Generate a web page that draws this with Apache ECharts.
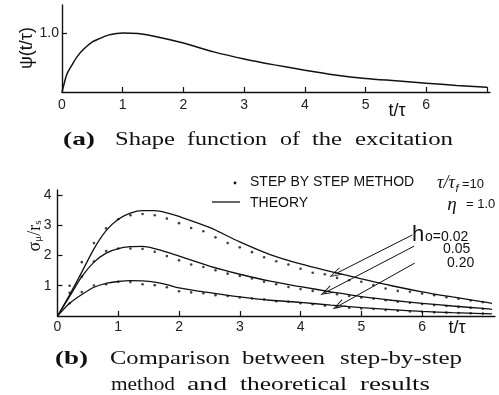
<!DOCTYPE html>
<html>
<head>
<meta charset="utf-8">
<script src="https://cdn.jsdelivr.net/npm/echarts@6/dist/echarts.min.js"></script>
<style>
html,body{margin:0;padding:0;background:#fff;}
#main{width:499px;height:395px;}
</style>
</head>
<body>
<div id="main"></div>
<script>
// (a) shape function psi(t/tau)
var psiT=[0,0.04,0.08,0.16,0.25,0.35,0.5,0.63,0.75,0.9,1,1.25,1.5,2,2.5,3,3.5,4,4.5,5,5.5,6,6.5,7];
var psiV=[0,0.16,0.3,0.45,0.6,0.72,0.85,0.91,0.96,0.99,1.0,0.99,0.95,0.83,0.68,0.56,0.46,0.37,0.29,0.23,0.19,0.15,0.11,0.08];

// (b) theory curves for h0 = 0.02 / 0.05 / 0.20
var theoryT=[0,0.2,0.4,0.6,0.8,1.0,1.2,1.4,1.6,1.8,2.0,2.5,3.0,3.5,4.0,4.5,5.0,5.5,6.0,6.5,7.0,7.15];
var theory002=[0,0.7,1.45,2.22,2.82,3.2,3.4,3.48,3.48,3.41,3.29,2.93,2.45,2.03,1.72,1.47,1.23,1.0,0.8,0.63,0.47,0.42];
var theory005=[0,0.65,1.3,1.78,2.08,2.23,2.29,2.3,2.23,2.11,1.98,1.65,1.38,1.15,0.97,0.8,0.64,0.52,0.42,0.33,0.25,0.22];
var theory020=[0,0.42,0.71,0.95,1.08,1.14,1.17,1.16,1.12,1.04,0.93,0.77,0.63,0.52,0.45,0.36,0.28,0.21,0.15,0.11,0.08,0.07];

// (b) step by step method points
var stepT=[0.2,0.4,0.6,0.8,1.0,1.2,1.4,1.6,1.8,2.0,2.2,2.4,2.6,2.8,3.0,3.2,3.4,3.6,3.8,4.0,4.2,4.4,4.6,4.8,5.0,5.2,5.4,5.6,5.8,6.0,6.2,6.4,6.6,6.8,7.0];
var step002=[1.0,1.78,2.41,2.9,3.2,3.33,3.37,3.33,3.22,3.07,2.91,2.8,2.6,2.41,2.27,2.11,1.94,1.81,1.7,1.56,1.43,1.38,1.26,1.18,1.13,1.02,0.91,0.83,0.8,0.74,0.69,0.62,0.57,0.51,0.46];
var step005=[0.77,1.3,1.8,2.15,2.23,2.23,2.22,2.12,1.98,1.84,1.7,1.62,1.51,1.4,1.32,1.24,1.13,1.05,0.96,0.89,0.83,0.78,0.72,0.66,0.61,0.57,0.52,0.47,0.44,0.4,0.36,0.33,0.3,0.27,0.24];
var step020=[0.42,0.79,1.01,1.05,1.13,1.12,1.05,1.02,0.95,0.82,0.78,0.75,0.69,0.66,0.61,0.58,0.55,0.49,0.47,0.42,0.39,0.34,0.3,0.27,0.25,0.23,0.2,0.17,0.15,0.14,0.12,0.11,0.1,0.09,0.08];

// arrows from the h0 labels to the curves [from, to]
var arrows=[[[5.84,2.68],[4.57,1.39]],[[5.87,2.31],[4.42,0.79]],[[5.88,1.75],[4.62,0.33]]];

var xTicksA=[1,2,3,4,5,6,7];
var xLabelsA=[0,1,2,3,4,5,6];
var xTicksB=[1,2,3,4,5,6];
var xLabelsB=[0,1,2,3,4,5,6];
var yTicksB=[1,2,3,4];

function pairs(xs,ys){
	var out=[];
	for(var i=0;i<xs.length;i++){
		out.push([xs[i],ys[i]]);
	}
	return out;
}

var ink='#111';
var numFont='Liberation Sans';
var serif='Liberation Serif';
var measureCtx=document.createElement('canvas').getContext('2d');

function fontStr(size,opt){
	return (opt.style||'normal')+' '+(opt.weight||'normal')+' '+size+'px "'+(opt.family||serif)+'"';
}

function txt(s,x,y,size,opt){
	opt=opt||{};
	var el={
		type:'text',x:x,y:y,rotation:opt.rot||0,silent:true,
		style:{
			text:s,fill:ink,font:fontStr(size,opt),
			textAlign:opt.align||'center',textVerticalAlign:'middle'
		}
	};
	// stretch a word to the width it takes in the scan (the original is letter-spaced)
	if(opt.width){
		measureCtx.font=fontStr(size,opt);
		var w=measureCtx.measureText(s).width;
		if(w>0){
			el.scaleX=opt.width/w;
		}
	}
	return el;
}

// caption words: [text, left, right, y, bold]
var captionWords=[
	['(a)',63,95,140,true],['Shape',115,175,140],['function',187,267,140],['of',280,300,140],['the',312,342,140],['excitation',355,453,140],
	['(b)',55,88,359,true],['Comparison',110,230,359],['between',242,325,359],['step-by-step',340,462,359],
	['method',111,175,385],['and',187,227,385],['theoretical',240,347,385],['results',360,430,385]
];

var graphics=[];
captionWords.forEach(function(w){
	graphics.push(txt(w[0],(w[1]+w[2])/2,w[3],19,{weight:w[4]?'bold':'normal',width:w[2]-w[1]}));
});

// axis names
graphics.push(txt('ψ(t/τ)',27,48,18,{family:numFont,rot:Math.PI/2}));
graphics.push({
	type:'text',x:35,y:236,rotation:Math.PI/2,silent:true,
	style:{
		text:'{a|σ}{s|μ}{a|/r}{s|s}',fill:ink,textAlign:'center',textVerticalAlign:'middle',
		rich:{
			a:{fontSize:18,fontFamily:serif,fill:ink},
			s:{fontSize:11,fontFamily:serif,fill:ink,verticalAlign:'bottom',padding:[7,0,0,0]}
		}
	}
});
graphics.push(txt('t/τ',397,111,18,{family:numFont}));
graphics.push(txt('t/τ',457,328,18,{family:numFont}));

// legend
graphics.push({type:'circle',silent:true,shape:{cx:235,cy:183,r:1.4},style:{fill:ink}});
graphics.push(txt('STEP BY STEP METHOD',250,182,14,{family:numFont,align:'left'}));
graphics.push({type:'line',silent:true,shape:{x1:212,y1:202,x2:240,y2:202},style:{stroke:ink,lineWidth:1.3}});
graphics.push(txt('THEORY',250,203,14,{family:numFont,align:'left'}));

// parameters
graphics.push(txt('τ/τ',446,183,18,{style:'italic'}));
graphics.push(txt('f',457,189,11,{style:'italic',family:numFont}));
graphics.push(txt('=10',462,184,13,{family:numFont,align:'left'}));
graphics.push(txt('η',452,205,19,{style:'italic'}));
graphics.push(txt('= 1.0',466,204,13,{family:numFont,align:'left'}));

// h0 labels
graphics.push(txt('h',418,235,22,{family:numFont}));
graphics.push(txt('o=0.02',425,237,14,{family:numFont,align:'left'}));
graphics.push(txt('0.05',443,249,14,{family:numFont,align:'left'}));
graphics.push(txt('0.20',447,263,14,{family:numFont,align:'left'}));

var chevron='path://M5,0 L10,14 L8.8,14 L5,3 L1.2,14 L0,14 Z';

var axisLineStyle={lineStyle:{color:ink,width:1.4}};
var tickStyle={show:true,inside:true,length:5,lineStyle:{color:ink,width:1.2}};
var labelBase={color:'#222',fontFamily:numFont,fontSize:14};

var chart=echarts.init(document.getElementById('main'));
var option={
	backgroundColor:'#ffffff',
	animation:false,
	graphic:graphics,
	grid:[
		{left:62,top:5,width:428,height:87},
		{left:57.5,top:190,width:437.5,height:126}
	],
	xAxis:[
		{
			type:'value',gridIndex:0,min:0,max:7.05,
			axisLine:axisLineStyle,splitLine:{show:false},
			axisTick:Object.assign({customValues:xTicksA},tickStyle),
			axisLabel:Object.assign({customValues:xLabelsA,margin:6},labelBase)
		},
		{
			type:'value',gridIndex:1,min:0,max:7.2,
			axisLine:axisLineStyle,splitLine:{show:false},
			axisTick:Object.assign({customValues:xTicksB},tickStyle),
			axisLabel:Object.assign({customValues:xLabelsB,margin:4},labelBase)
		}
	],
	yAxis:[
		{
			type:'value',gridIndex:0,min:0,max:1.475,
			axisLine:axisLineStyle,splitLine:{show:false},
			axisTick:Object.assign({customValues:[1]},tickStyle),
			axisLabel:Object.assign({customValues:[1],margin:3,formatter:function(v){return v.toFixed(1);}},labelBase)
		},
		{
			type:'value',gridIndex:1,min:0,max:4.165,
			axisLine:axisLineStyle,splitLine:{show:false},
			axisTick:Object.assign({customValues:yTicksB},tickStyle),
			axisLabel:Object.assign({customValues:yTicksB,margin:6},labelBase)
		}
	],
	series:[
		{
			name:'psi',type:'line',xAxisIndex:0,yAxisIndex:0,
			data:pairs(psiT,psiV),smooth:0.3,showSymbol:false,
			lineStyle:{color:ink,width:1.5}
		},
		{
			name:'THEORY',type:'line',xAxisIndex:1,yAxisIndex:1,
			data:pairs(theoryT,theory002),smooth:0.3,showSymbol:false,
			lineStyle:{color:ink,width:1.3},
			markLine:{
				silent:true,symbol:['none',chevron],symbolSize:[8,13],
				lineStyle:{color:ink,width:1,type:'solid'},label:{show:false},
				data:arrows.map(function(a){return [{coord:a[0]},{coord:a[1]}];})
			}
		},
		{
			name:'THEORY h0=0.05',type:'line',xAxisIndex:1,yAxisIndex:1,
			data:pairs(theoryT,theory005),smooth:0.3,showSymbol:false,
			lineStyle:{color:ink,width:1.3}
		},
		{
			name:'THEORY h0=0.20',type:'line',xAxisIndex:1,yAxisIndex:1,
			data:pairs(theoryT,theory020),smooth:0.3,showSymbol:false,
			lineStyle:{color:ink,width:1.3}
		},
		{
			name:'STEP BY STEP METHOD',type:'scatter',xAxisIndex:1,yAxisIndex:1,
			data:pairs(stepT,step002),symbolSize:2.6,itemStyle:{color:ink}
		},
		{
			name:'STEP h0=0.05',type:'scatter',xAxisIndex:1,yAxisIndex:1,
			data:pairs(stepT,step005),symbolSize:2.6,itemStyle:{color:ink}
		},
		{
			name:'STEP h0=0.20',type:'scatter',xAxisIndex:1,yAxisIndex:1,
			data:pairs(stepT,step020),symbolSize:2.6,itemStyle:{color:ink}
		}
	]
};
chart.setOption(option);
</script>
</body>
</html>
